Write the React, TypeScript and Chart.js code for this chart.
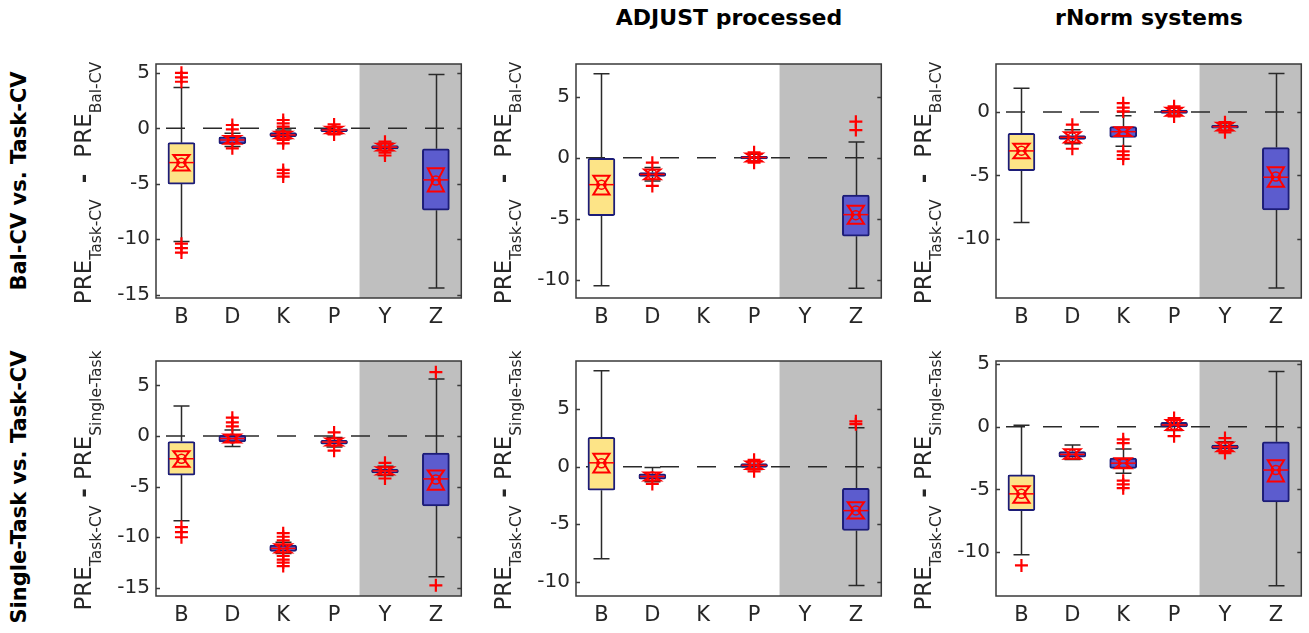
import React, { useEffect, useRef } from "react";
import { Chart, registerables } from "chart.js";
Chart.register(...registerables);

// ---------------- data ----------------
const categories = ["B", "D", "K", "P", "Y", "Z"];
const columnTitles = ["", "ADJUST processed", "rNorm systems"];
const rowLabels = ["Bal-CV vs. Task-CV", "Single-Task vs. Task-CV"];
const yTitleSubA = ["Task-CV", "Task-CV"];
const yTitleSubB = ["Bal-CV", "Single-Task"];
const yTitleSep = ["  -  ", " - "];
const shadedFrom = "Y";

const yMin = [-15.3, -11.5, -14.7, -15.8, -11.25, -13.5];
const yMax = [5.8, 7.7, 3.8, 7.4, 9.2, 5.25];
const yTicks = [
  [5, 0, -5, -10, -15],
  [5, 0, -5, -10],
  [0, -5, -10],
  [5, 0, -5, -10, -15],
  [5, 0, -5, -10],
  [5, 0, -5, -10],
];

// upper quartile (box top)
const boxTop = [
  [-1.29, -0.76, -0.38, -0.05, -1.55, -1.85],
  [-0.05, -1.2, null, 0.13, null, -3.05],
  [-1.68, -1.86, -1.15, 0.15, -1.05, -2.81],
  [-0.55, 0.06, -10.77, -0.42, -3.3, -1.7],
  [2.55, -0.62, null, 0.28, null, -1.87],
  [-3.84, -1.97, -2.49, 0.36, -1.45, -1.19],
];
// lower quartile (box bottom)
const boxBottom = [
  [-5.03, -1.41, -0.76, -0.3, -1.85, -7.38],
  [-4.74, -1.53, null, -0.08, null, -6.43],
  [-4.64, -2.16, -2.0, -0.1, -1.28, -7.73],
  [-3.86, -0.58, -11.41, -0.8, -3.63, -6.91],
  [-2.04, -1.08, null, -0.06, null, -5.55],
  [-6.7, -2.42, -3.32, 0.0, -1.77, -6.0],
];
const medians = [
  [-3.09, -1.05, -0.6, -0.15, -1.7, -4.65],
  [-2.2, -1.36, null, 0.03, null, -4.66],
  [-3.07, -2.0, -1.55, 0.03, -1.15, -5.15],
  [-2.25, -0.25, -11.1, -0.6, -3.45, -4.24],
  [0.34, -0.85, null, 0.12, null, -3.82],
  [-5.35, -2.2, -2.9, 0.15, -1.6, -3.45],
];
const means = [
  [-3.1, -1.05, -0.6, -0.15, -1.7, -4.7],
  [-2.2, -1.35, null, 0.05, null, -4.7],
  [-3.05, -2.0, -1.55, 0.05, -1.15, -5.1],
  [-2.25, -0.25, -11.1, -0.6, -3.45, -4.3],
  [0.3, -0.85, null, 0.12, null, -3.8],
  [-5.35, -2.2, -2.95, 0.15, -1.6, -3.45],
];
const whiskerHigh = [
  [3.68, -0.45, -0.15, 0.15, -1.35, 4.85],
  [6.9, -0.8, null, 0.3, null, 1.29],
  [1.88, -1.4, -0.3, 0.3, -0.9, 3.04],
  [2.96, 0.6, -10.5, -0.15, -3.0, 5.63],
  [8.35, -0.06, null, 0.45, null, 3.4],
  [0.13, -1.45, -1.77, 0.55, -1.2, 4.42],
];
const whiskerLow = [
  [-10.2, -1.65, -0.95, -0.5, -2.0, -14.4],
  [-10.5, -1.9, null, -0.25, null, -10.69],
  [-8.74, -2.5, -2.7, -0.25, -1.45, -13.9],
  [-8.36, -1.05, -11.6, -1.1, -3.9, -13.9],
  [-8.0, -1.3, null, -0.25, null, -10.33],
  [-10.2, -2.6, -3.7, -0.3, -1.95, -12.68],
];
const notchHigh = [
  [-2.4, -0.7, -0.3, 0.15, -1.4, -3.6],
  [-1.47, -0.95, null, 0.35, null, -3.94],
  [-2.5, -1.6, -1.2, 0.35, -0.85, -4.36],
  [-1.5, 0.15, -10.7, -0.25, -3.1, -3.4],
  [1.13, -0.5, null, 0.45, null, -3.1],
  [-4.75, -1.8, -2.5, 0.55, -1.25, -2.67],
];
const notchLow = [
  [-3.8, -1.4, -0.9, -0.45, -2.0, -5.7],
  [-3.0, -1.75, null, -0.3, null, -5.41],
  [-3.65, -2.4, -1.9, -0.3, -1.45, -5.9],
  [-3.05, -0.65, -11.5, -0.95, -3.8, -5.3],
  [-0.5, -1.2, null, -0.2, null, -4.5],
  [-6.05, -2.55, -3.3, -0.25, -1.95, -4.36],
];
const outliers: (number[] | null)[][] = [
  [[5.0, 4.6, 4.2, -10.4, -10.8, -11.2], [0.3, -0.1, -1.8], [0.75, 0.45, 0.15, -1.05, -1.35, -3.75, -4.05, -4.35], [0.35, -0.55], [-1.2, -2.2, -2.45], []],
  [[], [-0.4, -2.3], null, [0.45, -0.4], null, [2.97, 2.28]],
  [[], [-1.0, -2.9], [0.7, 0.35, 0.05, -3.1, -3.4, -3.7], [0.45, -0.35], [-0.8, -1.6], []],
  [[-9.0, -9.5, -10.0], [1.8, 1.35, 0.95], [-9.6, -9.95, -10.3, -11.85, -12.2, -12.5, -12.85], [0.35, -1.45], [-2.65, -4.2], [6.3, -14.75]],
  [[], [-1.5], null, [0.6, -0.4], null, [3.95, 3.7]],
  [[-11.06], [], [-1.0, -1.3, -4.3, -4.6, -4.9], [0.7, -0.75], [-0.9, -2.1], []],
];

// ---------------- layout & style ----------------
const COL_LEFT = [156, 576, 996];
const ROW_TOP = [58, 355];
const PLOT_W = 306;
const PLOT_H = [240, 241];
const AXIS_W = 150;
const PAD_TOP = 12;
const PAD_RIGHT = 8;
const AXIS_H = 50;
const BOX_W = 27;

const FONT = "'DejaVu Sans', sans-serif";
const YELLOW = "rgb(253,228,135)";
const BLUE = "rgb(92,92,206)";
const NAVY = "rgb(28,28,120)";
const RED = "rgb(255,0,0)";
const SHADE = "rgb(191,191,191)";
const INK = "#262626";

function makeExtras(p: number) {
  const row = Math.floor(p / 3);
  return {
    id: "boxExtras",
    beforeDatasetsDraw(chart: any) {
      const { ctx, chartArea: a, scales } = chart;
      const x = scales.x, y = scales.y;
      const step = x.getPixelForValue(1) - x.getPixelForValue(0);
      const gx = x.getPixelForValue(categories.indexOf(shadedFrom)) - step / 2;
      ctx.save();
      ctx.fillStyle = SHADE;
      ctx.fillRect(gx, a.top, a.right - gx, a.bottom - a.top);
      // zero reference line
      const zy = y.getPixelForValue(0);
      ctx.strokeStyle = "#2a2a2a";
      ctx.lineWidth = 1.5;
      ctx.setLineDash([19, 18]);
      ctx.lineDashOffset = 27;
      ctx.beginPath();
      ctx.moveTo(a.left, zy);
      ctx.lineTo(a.right, zy);
      ctx.stroke();
      ctx.setLineDash([]);
      // whiskers
      ctx.strokeStyle = "#2a2a2a";
      ctx.lineWidth = 1.5;
      for (let i = 0; i < categories.length; i++) {
        const top = boxTop[p][i];
        if (top == null) continue;
        const cx = Math.round(x.getPixelForValue(i)) + 0.5;
        const yh = y.getPixelForValue(whiskerHigh[p][i] as number);
        const yl = y.getPixelForValue(whiskerLow[p][i] as number);
        const yt = y.getPixelForValue(top);
        const yb = y.getPixelForValue(boxBottom[p][i] as number);
        ctx.beginPath();
        ctx.moveTo(cx, yh); ctx.lineTo(cx, yt);
        ctx.moveTo(cx, yb); ctx.lineTo(cx, yl);
        ctx.moveTo(cx - 8, yh); ctx.lineTo(cx + 8, yh);
        ctx.moveTo(cx - 8, yl); ctx.lineTo(cx + 8, yl);
        ctx.stroke();
      }
      ctx.restore();
    },
    afterDatasetsDraw(chart: any) {
      const { ctx, scales } = chart;
      const x = scales.x, y = scales.y;
      ctx.save();
      ctx.strokeStyle = RED;
      for (let i = 0; i < categories.length; i++) {
        const med = medians[p][i];
        if (med == null) continue;
        const cx = x.getPixelForValue(i);
        const ym = y.getPixelForValue(med);
        const yh = y.getPixelForValue(notchHigh[p][i] as number);
        const yl = y.getPixelForValue(notchLow[p][i] as number);
        ctx.lineWidth = 1.5;
        ctx.beginPath();
        ctx.moveTo(cx - BOX_W / 2 + 1, ym);
        ctx.lineTo(cx + BOX_W / 2 - 1, ym);
        ctx.stroke();
        const aw = BOX_W * 0.3, bw = BOX_W * 0.08;
        ctx.lineWidth = 2;
        ctx.beginPath();
        ctx.moveTo(cx - aw, yh);
        ctx.lineTo(cx + aw, yh);
        ctx.lineTo(cx + bw, ym);
        ctx.lineTo(cx + aw, yl);
        ctx.lineTo(cx - aw, yl);
        ctx.lineTo(cx - bw, ym);
        ctx.closePath();
        ctx.stroke();
      }
      ctx.restore();
    },
    afterDraw(chart: any) {
      const { ctx, chartArea: a, scales } = chart;
      const y = scales.y;
      ctx.save();
      ctx.strokeStyle = "#3a3a3a";
      ctx.lineWidth = 1.5;
      ctx.strokeRect(a.left, a.top, a.right - a.left, a.bottom - a.top);
      ctx.beginPath();
      for (const v of yTicks[p]) {
        const py = Math.round(y.getPixelForValue(v)) + 0.5;
        ctx.moveTo(a.left, py); ctx.lineTo(a.left + 4, py);
        ctx.moveTo(a.right, py); ctx.lineTo(a.right - 4, py);
      }
      ctx.stroke();
      // y-axis title with subscripts
      const parts = [
        { t: "PRE", f: `23px ${FONT}`, dy: 0 },
        { t: yTitleSubA[row], f: `15.5px ${FONT}`, dy: 10 },
        { t: yTitleSep[row], f: `bold 23px ${FONT}`, dy: 0 },
        { t: "PRE", f: `23px ${FONT}`, dy: 0 },
        { t: yTitleSubB[row], f: `15.5px ${FONT}`, dy: 10 },
      ];
      let total = 0;
      const widths = parts.map((pt) => {
        ctx.font = pt.f;
        const w = ctx.measureText(pt.t).width;
        total += w;
        return w;
      });
      const cy = (a.top + a.bottom) / 2 + 2;
      ctx.translate(a.left - 65, cy);
      ctx.rotate(-Math.PI / 2);
      ctx.fillStyle = INK;
      ctx.textBaseline = "alphabetic";
      ctx.textAlign = "left";
      let xx = -total / 2;
      parts.forEach((pt, k) => {
        ctx.font = pt.f;
        ctx.fillText(pt.t, xx, pt.dy);
        xx += widths[k];
      });
      ctx.restore();
    },
  };
}

function Panel({ p }: { p: number }) {
  const ref = useRef<HTMLCanvasElement>(null);
  const row = Math.floor(p / 3);
  const col = p % 3;
  const w = AXIS_W + PLOT_W + PAD_RIGHT;
  const h = PAD_TOP + PLOT_H[row] + AXIS_H;
  useEffect(() => {
    const canvas = ref.current;
    if (!canvas) return;
    const barData = boxTop[p].map((t, i) => (t == null ? null : [boxBottom[p][i] as number, t]));
    const outPts: { x: string; y: number }[] = [];
    outliers[p].forEach((arr, i) => {
      if (arr) arr.forEach((v) => outPts.push({ x: categories[i], y: v }));
    });
    const meanPts: { x: string; y: number }[] = [];
    means[p].forEach((m, i) => {
      if (m != null) meanPts.push({ x: categories[i], y: m });
    });
    const chart = new Chart(canvas, {
      type: "bar",
      data: {
        labels: categories,
        datasets: [
          {
            type: "bar",
            data: barData as any,
            backgroundColor: categories.map((_, i) => (i === 0 ? YELLOW : BLUE)),
            borderColor: NAVY,
            borderWidth: 2,
            borderSkipped: false,
            borderRadius: 2,
            barThickness: BOX_W,
            order: 3,
          } as any,
          {
            type: "line",
            data: outPts as any,
            showLine: false,
            pointStyle: "cross",
            pointRadius: 6.5,
            pointBorderColor: RED,
            pointBorderWidth: 2.2,
            order: 2,
          } as any,
          {
            type: "line",
            data: meanPts as any,
            showLine: false,
            pointStyle: "circle",
            pointRadius: 4.5,
            pointBackgroundColor: "rgba(0,0,0,0)",
            pointBorderColor: RED,
            pointBorderWidth: 1.5,
            order: 1,
          } as any,
        ],
      },
      options: {
        animation: false,
        responsive: false,
        maintainAspectRatio: false,
        devicePixelRatio: 1,
        events: [],
        layout: { padding: { top: PAD_TOP, right: PAD_RIGHT, left: 0, bottom: 0 } },
        plugins: { legend: { display: false }, tooltip: { enabled: false }, title: { display: false } },
        scales: {
          x: {
            type: "category",
            offset: true,
            grid: { display: false, drawTicks: false },
            border: { display: false },
            ticks: { color: INK, font: { family: FONT, size: 21 }, padding: 7, maxRotation: 0 },
            afterFit: (s: any) => { s.height = AXIS_H; },
          },
          y: {
            type: "linear",
            min: yMin[p],
            max: yMax[p],
            grid: { display: false, drawTicks: false },
            border: { display: false },
            ticks: { color: INK, font: { family: FONT, size: 20 }, padding: 6 },
            afterBuildTicks: (s: any) => { s.ticks = yTicks[p].map((v) => ({ value: v })); },
            afterFit: (s: any) => { s.width = AXIS_W; },
          },
        },
      } as any,
      plugins: [makeExtras(p) as any],
    });
    return () => chart.destroy();
  }, [p]);
  return (
    <canvas
      ref={ref}
      width={w}
      height={h}
      style={{ position: "absolute", left: COL_LEFT[col] - AXIS_W, top: ROW_TOP[row] - PAD_TOP, width: w, height: h }}
    />
  );
}

export default function App() {
  return (
    <div style={{ position: "fixed", left: 0, top: 0, width: 1309, height: 633, background: "#fff", overflow: "hidden" }}>
      {columnTitles.map((t, c) =>
        t ? (
          <div
            key={"t" + c}
            style={{
              position: "absolute",
              left: COL_LEFT[c] + PLOT_W / 2,
              top: 18,
              transform: "translate(-50%,-50%)",
              font: `bold 22px ${FONT}`,
              lineHeight: "22px",
              whiteSpace: "nowrap",
              color: "#000",
            }}
          >
            {t}
          </div>
        ) : null
      )}
      {rowLabels.map((t, r) => (
        <div
          key={"r" + r}
          style={{
            position: "absolute",
            left: 19,
            top: r === 0 ? 181 : 487,
            transform: "translate(-50%,-50%) rotate(-90deg)",
            font: `bold 21px ${FONT}`,
            lineHeight: "21px",
            whiteSpace: "nowrap",
            color: "#000",
          }}
        >
          {t}
        </div>
      ))}
      {[0, 1, 2, 3, 4, 5].map((p) => (
        <Panel key={p} p={p} />
      ))}
    </div>
  );
}
